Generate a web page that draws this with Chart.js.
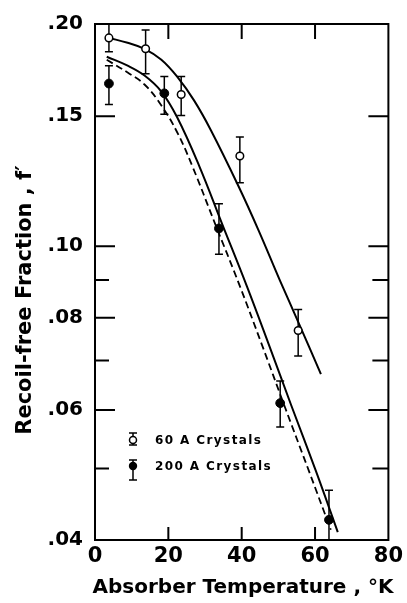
<!DOCTYPE html>
<html>
<head>
<meta charset="utf-8">
<script src="https://cdn.jsdelivr.net/npm/chart.js@4/dist/chart.umd.min.js"></script>
<style>
  html, body { margin: 0; padding: 0; background: #fff; }
  #wrap { width: 407px; height: 603px; }
</style>
</head>
<body>
<div id="wrap"><canvas id="grafico" width="407" height="603"></canvas></div>
<script>
// Eixos
const xTicks = [0, 20, 40, 60, 80];
const yMajor = [0.04, 0.06, 0.08, 0.10, 0.15, 0.20];
const yMinor = [0.05, 0.07, 0.09];

// 60 A crystals (circulos abertos)
const tempOpen = [3.8, 13.8, 23.5, 39.5, 55.4];
const fOpen = [0.1915, 0.1851, 0.1605, 0.1325, 0.0769];
const fOpenHi = [0.201, 0.1963, 0.1698, 0.1406, 0.0821];
const fOpenLo = [0.1834, 0.1713, 0.1504, 0.1219, 0.0710];

// 200 A crystals (circulos cheios)
const tempFilled = [3.8, 18.9, 33.8, 50.5, 63.8];
const fFilled = [0.1661, 0.1611, 0.1057, 0.0613, 0.0426];
const fFilledHi = [0.1756, 0.1698, 0.1142, 0.0657, 0.0467];
const fFilledLo = [0.1556, 0.1509, 0.0975, 0.0569, 0.0400];

// curvas teoricas
const curve60T = [3.8, 8.9, 13.5, 18.1, 22.4, 27.0, 31.6, 39.2, 44.6, 50.5, 55.4, 61.6];
const curve60F = [0.1915, 0.1886, 0.1851, 0.1789, 0.1697, 0.1576, 0.1436, 0.1204, 0.1051, 0.0897, 0.0790, 0.0671];
const curve200T = [3.2, 8.9, 13.5, 18.1, 22.4, 28.4, 34.6, 41.4, 47.3, 53.5, 60.3, 66.2];
const curve200F = [0.1806, 0.1756, 0.1703, 0.1620, 0.1495, 0.1285, 0.1074, 0.0883, 0.0738, 0.0609, 0.0495, 0.0410];
const dash200T = [3.2, 8.9, 13.5, 18.1, 22.4, 26.5, 32.7, 39.5, 45.4, 51.6, 58.4, 64.3];
const dash200F = [0.1789, 0.1719, 0.1656, 0.1551, 0.1427, 0.1285, 0.1074, 0.0883, 0.0738, 0.0609, 0.0495, 0.0413];

const pares = (xs, ys) => xs.map((x, i) => ({ x, y: ys[i] }));
const fonte = '"DejaVu Sans", sans-serif';

// barras de erro, ticks internos, legenda e titulos
const extras = {
  id: 'extras',
  beforeDatasetsDraw(chart) {
    const { ctx, chartArea: a, scales: { x, y } } = chart;
    ctx.save();
    ctx.beginPath();
    ctx.rect(a.left, a.top - 1, a.right - a.left, a.bottom - a.top + 2);
    ctx.clip();
    ctx.strokeStyle = '#000';
    ctx.lineWidth = 1.5;
    const barras = (ts, hi, lo) => ts.forEach((t, i) => {
      const px = x.getPixelForValue(t);
      const y1 = y.getPixelForValue(hi[i]);
      const y2 = y.getPixelForValue(lo[i]);
      ctx.beginPath();
      ctx.moveTo(px, y1); ctx.lineTo(px, y2);
      ctx.moveTo(px - 4, y1); ctx.lineTo(px + 4, y1);
      ctx.moveTo(px - 4, y2); ctx.lineTo(px + 4, y2);
      ctx.stroke();
    });
    barras(tempOpen, fOpenHi, fOpenLo);
    barras(tempFilled, fFilledHi, fFilledLo);
    ctx.restore();
  },
  afterDraw(chart) {
    const { ctx, chartArea: a, scales: { x, y } } = chart;
    ctx.save();
    ctx.strokeStyle = '#000';
    ctx.lineWidth = 2;
    ctx.strokeRect(a.left, a.top, a.right - a.left, a.bottom - a.top);

    // ticks para dentro
    ctx.beginPath();
    yMajor.concat(yMinor).forEach(v => {
      if (v <= 0.04 || v >= 0.20) return;
      const py = y.getPixelForValue(v);
      const maior = yMajor.includes(v);
      ctx.moveTo(a.left, py); ctx.lineTo(a.left + (maior ? 20 : 14), py);
      ctx.moveTo(a.right, py); ctx.lineTo(a.right - (maior ? 20 : 16), py);
    });
    xTicks.forEach(v => {
      if (v <= 0 || v >= 80) return;
      const px = x.getPixelForValue(v);
      ctx.moveTo(px, a.top); ctx.lineTo(px, a.top + 15);
      ctx.moveTo(px, a.bottom); ctx.lineTo(px, a.bottom - 13);
    });
    ctx.stroke();

    // legenda
    const lx = a.left + 38;
    const ly1 = a.top + 416, ly2 = a.top + 442;
    ctx.lineWidth = 1.5;
    ctx.beginPath();
    ctx.moveTo(lx, ly1 - 7); ctx.lineTo(lx, ly1 + 5);
    ctx.moveTo(lx - 4, ly1 - 7); ctx.lineTo(lx + 4, ly1 - 7);
    ctx.moveTo(lx - 4, ly1 + 5); ctx.lineTo(lx + 4, ly1 + 5);
    ctx.moveTo(lx, ly2 - 6); ctx.lineTo(lx, ly2 + 14);
    ctx.moveTo(lx - 4, ly2 - 6); ctx.lineTo(lx + 4, ly2 - 6);
    ctx.moveTo(lx - 4, ly2 + 14); ctx.lineTo(lx + 4, ly2 + 14);
    ctx.stroke();
    ctx.fillStyle = '#fff';
    ctx.beginPath(); ctx.arc(lx, ly1, 3.5, 0, Math.PI * 2); ctx.fill(); ctx.stroke();
    ctx.fillStyle = '#000';
    ctx.beginPath(); ctx.arc(lx, ly2, 4.2, 0, Math.PI * 2); ctx.fill();
    ctx.font = 'bold 12px ' + fonte;
    ctx.letterSpacing = '1.4px';
    ctx.textBaseline = 'middle';
    ctx.textAlign = 'left';
    ctx.fillText('60 A Crystals', lx + 22, ly1 + 1);
    ctx.fillText('200 A Crystals', lx + 22, ly2 + 1);

    // titulos dos eixos
    ctx.letterSpacing = '0px';
    ctx.font = 'bold 20px ' + fonte;
    ctx.textAlign = 'center';
    ctx.fillText('Absorber Temperature , °K', 243, 588);
    ctx.font = 'bold 21px ' + fonte;
    ctx.translate(26, 300);
    ctx.rotate(-Math.PI / 2);
    ctx.fillText('Recoil-free Fraction , f\u2032', 0, 0);
    ctx.restore();
  }
};

const linha = (label, xs, ys, extra) => Object.assign({
  type: 'line',
  label,
  data: pares(xs, ys),
  borderColor: '#000',
  borderWidth: 2,
  pointRadius: 0,
  tension: 0.4,
  fill: false
}, extra);

new Chart(document.getElementById('grafico'), {
  type: 'scatter',
  data: {
    datasets: [
      {
        label: '60 A Crystals',
        data: pares(tempOpen, fOpen),
        pointStyle: 'circle',
        pointRadius: 3.8,
        pointBackgroundColor: '#fff',
        pointBorderColor: '#000',
        pointBorderWidth: 1.5
      },
      {
        label: '200 A Crystals',
        data: pares(tempFilled, fFilled),
        pointStyle: 'circle',
        pointRadius: 4.4,
        pointBackgroundColor: '#000',
        pointBorderColor: '#000',
        pointBorderWidth: 1
      },
      linha('teoria 60 A', curve60T, curve60F),
      linha('teoria 200 A', curve200T, curve200F),
      linha('teoria 200 A (tracejada)', dash200T, dash200F, { borderWidth: 1.8, borderDash: [7, 4] })
    ]
  },
  options: {
    responsive: false,
    animation: false,
    layout: { padding: { left: 0, right: 16, top: 20, bottom: 0 } },
    plugins: {
      legend: { display: false },
      tooltip: { enabled: false }
    },
    scales: {
      x: {
        type: 'linear',
        min: 0,
        max: 80,
        afterBuildTicks: s => { s.ticks = xTicks.map(v => ({ value: v })); },
        afterFit: s => { s.height = 63; },
        ticks: { color: '#000', font: { family: fonte, weight: 'bold', size: 21 }, padding: 4, maxRotation: 0 },
        grid: { display: false, drawTicks: false },
        border: { display: false }
      },
      y: {
        type: 'logarithmic',
        min: 0.04,
        max: 0.20,
        afterBuildTicks: s => { s.ticks = yMajor.map(v => ({ value: v })); },
        afterFit: s => { s.width = 95; },
        ticks: {
          color: '#000',
          font: { family: fonte, weight: 'bold', size: 20 },
          padding: 12,
          callback: v => '.' + String(Math.round(v * 100)).padStart(2, '0')
        },
        grid: { display: false, drawTicks: false },
        border: { display: false }
      }
    }
  },
  plugins: [extras]
});
</script>
</body>
</html>
